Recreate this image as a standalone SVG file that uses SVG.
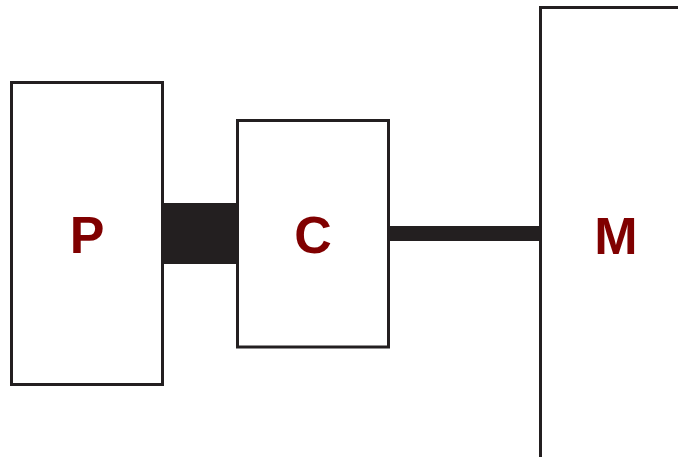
<svg xmlns="http://www.w3.org/2000/svg" width="678" height="457" viewBox="0 0 678 457">
<style>
.box{fill:#fff;stroke:#231f20;stroke-width:3}
.lbl{font-family:"Liberation Sans",Arial,sans-serif;font-weight:bold;font-size:52px;fill:#800000;text-anchor:middle}
.conn{fill:#231f20}
</style>
<rect width="678" height="457" fill="#fff"/>
<g id="connectors">
<rect class="conn" x="162" y="203" width="75" height="61"/>
<rect class="conn" x="389" y="226" width="151" height="15"/>
</g>
<g id="P">
<rect class="box" x="11.5" y="82.5" width="151" height="302"/>
<text class="lbl" x="87" y="253">P</text>
</g>
<g id="C">
<rect class="box" x="237.5" y="120.5" width="151" height="226.5"/>
<text class="lbl" x="313" y="253">C</text>
</g>
<g id="M">
<path class="box" d="M540.5 460 V7.5 H682"/>
<text class="lbl" x="616" y="254">M</text>
</g>
</svg>
